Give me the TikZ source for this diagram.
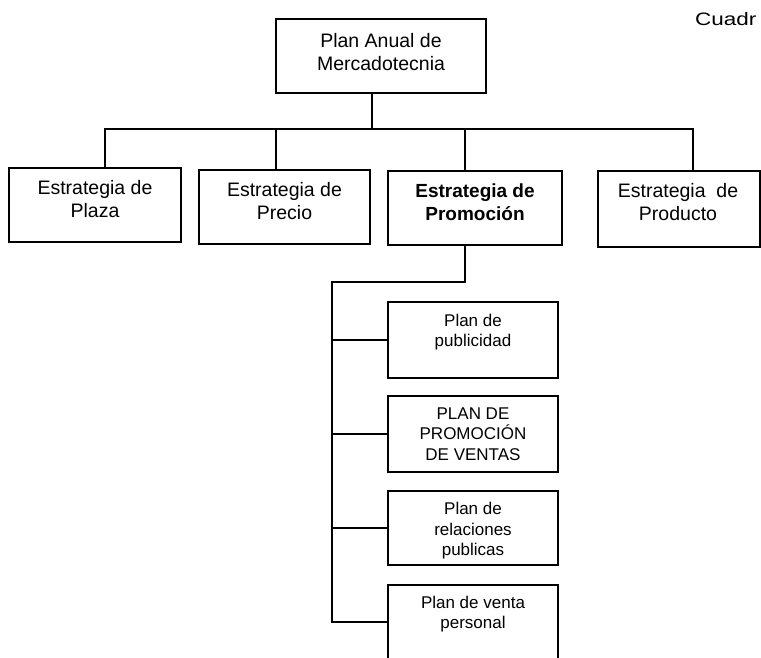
\documentclass[tikz,border=0pt]{standalone}
\usepackage{fontspec}
\setmainfont{Liberation Sans}
\begin{document}
\begin{tikzpicture}[x=1pt,y=-1pt,
  box/.style={draw, line width=1.5pt, inner sep=0pt},
  conn/.style={line width=2pt},
  big/.style={font=\fontsize{19.5}{23}\selectfont, align=center, inner sep=0pt},
  small/.style={font=\fontsize{17}{20.5}\selectfont, align=center, inner sep=0pt}]
\useasboundingbox (0,0) rectangle (761,657);
\clip (0,0) rectangle (761,657);
\fill[white] (0,0) rectangle (761,657);

% top level
\node[box, minimum width=210pt, minimum height=74pt] (top) at (381,56) {};
\node[big] (toptxt) at (381,52) {Plan Anual de\\Mercadotecnia};

% second level
\node[box, minimum width=172pt, minimum height=74pt] (plaza) at (95,205) {};
\node[big] (plazatxt) at (95,199) {Estrategia de\\Plaza};
\node[box, minimum width=171pt, minimum height=74pt] (precio) at (284.5,207) {};
\node[big] (preciotxt) at (284.5,201) {Estrategia de\\Precio};
\node[box, minimum width=174pt, minimum height=74pt] (promo) at (475,208) {};
\node[big, font=\fontsize{19}{23}\selectfont\bfseries] (promotxt) at (475,202) {Estrategia de\\Promoción};
\node[box, minimum width=162pt, minimum height=76pt] (prod) at (679,209) {};
\node[big] (prodtxt) at (678,202) {Estrategia~ de\\Producto};

% third level
\node[box, minimum width=170pt, minimum height=76pt] (pub) at (473,340) {};
\node[small] (pubtxt) at (473,332) {Plan de\\publicidad};
\node[box, minimum width=170pt, minimum height=76pt] (ventas) at (473,434) {};
\node[small] (ventastxt) at (473,434) {PLAN DE\\PROMOCIÓN\\DE VENTAS};
\node[box, minimum width=170pt, minimum height=74pt] (rel) at (473,528) {};
\node[small] (reltxt) at (473,531) {Plan de\\relaciones\\publicas};
\node[box, minimum width=170pt, minimum height=115pt] (vp) at (473,642.5) {};
\node[small] (vptxt) at (473,614) {Plan de venta\\personal};

% title fragment
\node[anchor=base west, font=\fontsize{18}{22}\selectfont, inner sep=0pt] (cuadr) at (695,25) {\scalebox{1.25}[1]{Cuadr}};

% connectors
\coordinate (barL) at (105,129);
\coordinate (barR) at (693,129);
\draw[conn] ([xshift=-9pt]top.south) -- ([xshift=-9pt]top.south |- barL);
\draw[conn] ([xshift=10pt]plaza.north) -- (barL) -- (barR) -- ([xshift=14pt]prod.north);
\draw[conn] ([xshift=-8.5pt]precio.north) -- ([xshift=-8.5pt]precio.north |- barL);
\draw[conn] ([xshift=-10pt]promo.north) -- ([xshift=-10pt]promo.north |- barL);

\coordinate (busTop) at (332,282);
\coordinate (busBot) at (332,622);
\draw[conn] ([xshift=-10pt]promo.south) |- (busTop) -- (busBot) -- (busBot -| vp.west);
\draw[conn] (pub.west -| busTop) -- (pub.west);
\draw[conn] (ventas.west -| busTop) -- (ventas.west);
\draw[conn] (rel.west -| busTop) -- (rel.west);
\end{tikzpicture}
\end{document}
